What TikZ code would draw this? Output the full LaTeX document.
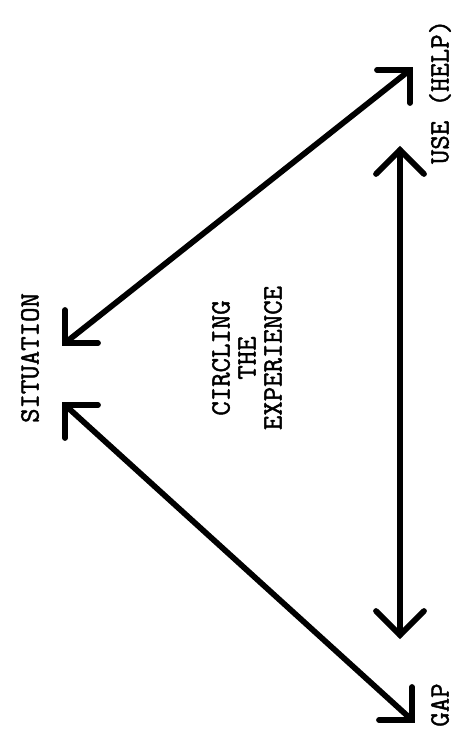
\documentclass[tikz,border=0pt]{standalone}
\usepackage{fontspec}
\newfontfamily\tw[FakeBold=1.5]{Latin Modern Mono}
\begin{document}
\begin{tikzpicture}[x=0.75pt,y=-0.75pt,
  arr/.style={line width=4.3pt,line cap=round,line join=miter},
  lbl/.style={font=\tw\fontsize{21}{19.5}\selectfont,rotate=90,inner sep=0pt,align=center}]
\useasboundingbox (0,0) rectangle (471,730);
% corners of arrows
\coordinate (s1) at (65,343);
\coordinate (s2) at (65,405);
\coordinate (u)  at (410,70);
\coordinate (g)  at (412,720);
\coordinate (vt) at (400,150);
\coordinate (vb) at (400,635);
% labels
\node[lbl] (sit) at (30,358) {SITUATION};
\node[lbl] (use) at (440,92) {USE (HELP)};
\node[lbl] (gap) at (440,705) {GAP};
\node[lbl] (circ) at (247,358) {CIRCLING\\THE\\EXPERIENCE};
% upper diagonal
\draw[arr] (s1) -- (u);
\draw[arr] ([shift={(33,0)}]s1) -- (s1) -- ([shift={(0,-33)}]s1);
\draw[arr] ([shift={(-33,0)}]u) -- (u) -- ([shift={(0,33)}]u);
% lower diagonal
\draw[arr] (s2) -- (g);
\draw[arr] ([shift={(33,0)}]s2) -- (s2) -- ([shift={(0,33)}]s2);
\draw[arr] ([shift={(-33,0)}]g) -- (g) -- ([shift={(0,-33)}]g);
% vertical
\draw[arr] (vt) -- (vb);
\draw[arr] ([shift={(-24,24)}]vt) -- (vt) -- ([shift={(24,24)}]vt);
\draw[arr] ([shift={(-24,-24)}]vb) -- (vb) -- ([shift={(24,-24)}]vb);
\end{tikzpicture}
\end{document}
